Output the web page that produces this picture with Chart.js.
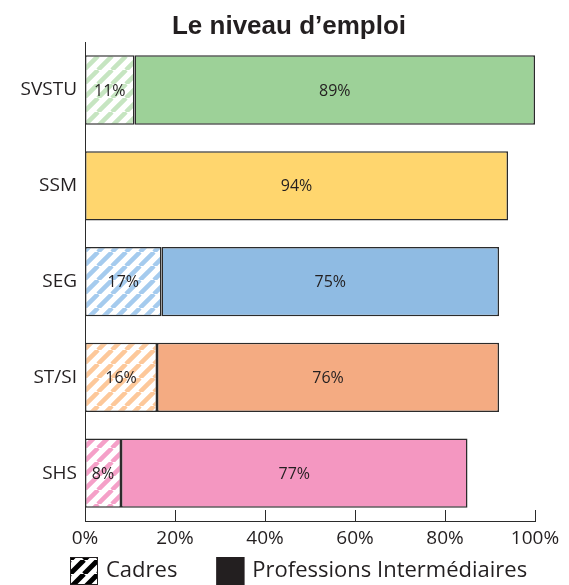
<!DOCTYPE html>
<html><head><meta charset="utf-8">
<script src="https://cdn.jsdelivr.net/npm/chart.js@4.4.1/dist/chart.umd.min.js"></script>
<style>html,body{margin:0;padding:0;background:#fff}#wrap{width:569px;height:585px;position:relative}</style>
</head><body><div id="wrap"><canvas id="c"></canvas></div>
<script>
const categories = ['SVSTU', 'SSM', 'SEG', 'ST/SI', 'SHS'];
const seriesNames = ['Cadres', 'Professions Intermédiaires'];
const cadres = [11, 0, 17, 16, 8];
const intermediaires = [89, 94, 75, 76, 77];
const xTicks = [0, 20, 40, 60, 80, 100];
const barColors = ['#9dd198', '#ffd66e', '#8fbbe3', '#f4ab82', '#f497c1'];
const hatchColors = ['#c6e5c1', '#ffe6a8', '#a5cbee', '#fdc89a', '#f5a0c8'];
const chartTitle = 'Le niveau d’emploi';

const FONT = "'Open Sans', 'DejaVu Sans', sans-serif";
const TITLE_FONT = "'Liberation Sans', Arial, sans-serif";
const TEXT = '#231f20';
const LINE = '#2b2b2b';

const canvas = document.getElementById('c');
const mainCtx = canvas.getContext('2d');

function hatch(color, bg, size, lw) {
  const t = document.createElement('canvas');
  t.width = t.height = size;
  const g = t.getContext('2d');
  g.fillStyle = bg; g.fillRect(0, 0, size, size);
  g.strokeStyle = color; g.lineWidth = lw;
  g.beginPath();
  for (let k = -1; k <= 1; k++) { g.moveTo(k * size, size); g.lineTo(k * size + size, 0); }
  g.stroke();
  return mainCtx.createPattern(t, 'repeat');
}
const hatchFills = hatchColors.map(c => hatch(c, '#ffffff', 14, 4.5));
const legendHatch = hatch('#000000', '#ffffff', 14, 5);

const valueLabels = {
  id: 'valueLabels',
  afterDatasetsDraw(chart) {
    const ctx = chart.ctx;
    ctx.save();
    ctx.font = `16px ${FONT}`; ctx.fillStyle = TEXT;
    ctx.textAlign = 'center'; ctx.textBaseline = 'middle';
    chart.data.datasets.forEach((ds, i) => {
      chart.getDatasetMeta(i).data.forEach((el, j) => {
        const v = ds.data[j];
        if (!v) return;
        const p = el.getProps(['x', 'y', 'base'], true);
        ctx.fillText(v + '%', (p.x + p.base) / 2, p.y + 1);
      });
    });
    ctx.restore();
  }
};

const innerTicks = {
  id: 'innerTicks',
  afterDraw(chart) {
    const s = chart.scales.x, ctx = chart.ctx, bottom = chart.chartArea.bottom;
    ctx.save(); ctx.strokeStyle = LINE; ctx.lineWidth = 1; ctx.beginPath();
    xTicks.forEach(v => {
      const px = Math.round(s.getPixelForValue(v)) + 0.5;
      ctx.moveTo(px, bottom - 11); ctx.lineTo(px, bottom);
    });
    ctx.stroke(); ctx.restore();
  }
};

const bottomLegend = {
  id: 'bottomLegend',
  afterDraw(chart) {
    const ctx = chart.ctx, size = 28, top = chart.chartArea.bottom + 36;
    ctx.save();
    ctx.font = `22px ${FONT}`; ctx.textBaseline = 'middle'; ctx.textAlign = 'left';
    let x = 70;
    chart.data.datasets.forEach((ds, i) => {
      ctx.fillStyle = i === 0 ? legendHatch : TEXT;
      ctx.fillRect(x, top, size, size);
      ctx.strokeStyle = TEXT; ctx.lineWidth = 1;
      ctx.strokeRect(x + 0.5, top + 0.5, size - 1, size - 1);
      ctx.fillStyle = TEXT;
      const tx = x + size + 8;
      ctx.fillText(ds.label, tx, top + 14);
      x = tx + ctx.measureText(ds.label).width + 39;
    });
    ctx.restore();
  }
};

new Chart(canvas, {
  type: 'bar',
  data: {
    labels: categories,
    datasets: [
      { label: seriesNames[0], data: cadres, backgroundColor: hatchFills,
        borderColor: LINE, borderWidth: 1.5, borderSkipped: false },
      { label: seriesNames[1], data: intermediaires, backgroundColor: barColors,
        borderColor: LINE, borderWidth: 1.5, borderSkipped: false }
    ]
  },
  options: {
    indexAxis: 'y',
    responsive: true,
    maintainAspectRatio: false,
    animation: false,
    categoryPercentage: 1,
    barPercentage: 0.725,
    layout: { padding: { left: 9, right: 0, top: 0, bottom: 36 } },
    scales: {
      x: {
        stacked: true, min: 0, max: 100,
        afterBuildTicks(s) { s.ticks = xTicks.map(v => ({ value: v })); },
        afterFit(s) { s.height = 28; },
        grid: { display: false, drawTicks: false },
        border: { display: true, color: LINE, width: 1 },
        ticks: { callback: v => v + '%', color: TEXT, padding: 6, font: { family: FONT, size: 19 } }
      },
      y: {
        stacked: true,
        afterFit(s) { s.width = 76; },
        grid: { display: false, drawTicks: false },
        border: { display: true, color: LINE, width: 1 },
        ticks: { color: TEXT, padding: 8, font: { family: FONT, size: 19 } }
      },
      yRight: {
        type: 'category', position: 'right', display: true,
        afterFit(s) { s.width = 34; },
        grid: { display: false, drawTicks: false },
        border: { display: false },
        ticks: { display: false }
      }
    },
    plugins: {
      legend: { display: false },
      tooltip: { enabled: false },
      title: {
        display: true, text: chartTitle, color: TEXT,
        font: { family: TITLE_FONT, size: 26, weight: 'bold' },
        padding: { top: 11, bottom: 0 }
      }
    }
  },
  plugins: [valueLabels, innerTicks, bottomLegend]
});
</script>
</body></html>
